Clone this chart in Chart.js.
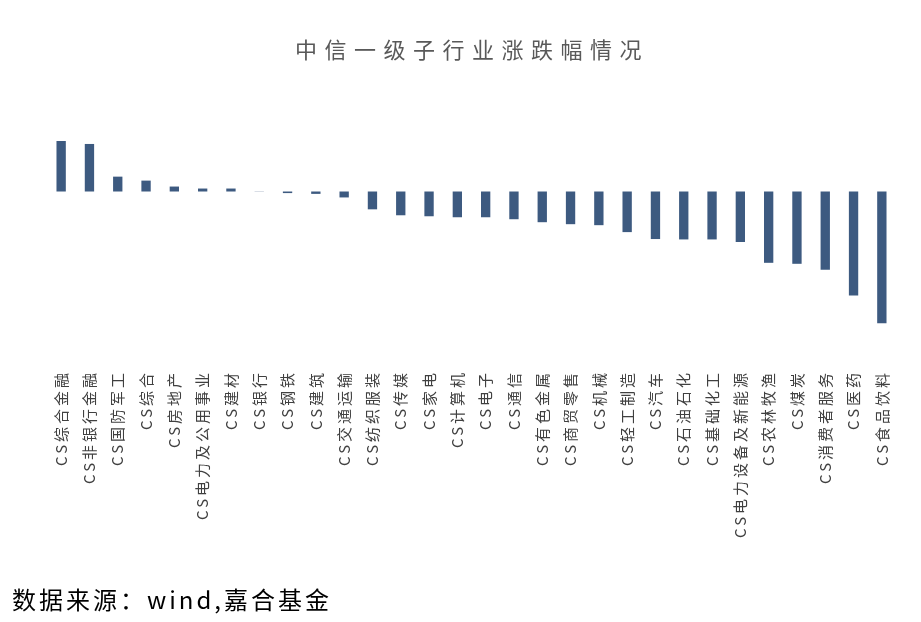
<!DOCTYPE html>
<html lang="zh-CN">
<head>
    <meta charset="UTF-8">
    <title>中信一级子行业涨跌幅情况</title>
    <script src="https://cdn.jsdelivr.net/npm/chart.js"></script>
    <style>
        html, body {
            margin: 0;
            padding: 0;
            background: #ffffff;
        }
        .wrap {
            position: relative;
            width: 921px;
            height: 622px;
            overflow: hidden;
        }
        .title {
            position: absolute;
            top: 33px;
            left: 0;
            width: 944px;
            text-align: center;
            font-family: "Noto Sans CJK SC", sans-serif;
            font-size: 22px;
            line-height: 30px;
            letter-spacing: 7.5px;
            color: #595959;
        }
        .source {
            position: absolute;
            left: 12px;
            top: 583px;
            font-family: "Noto Sans CJK SC", sans-serif;
            font-size: 24px;
            line-height: 32px;
            letter-spacing: 3px;
            color: #000000;
        }
        canvas {
            position: absolute;
            left: 0;
            top: 0;
        }
    </style>
</head>
<body>
<div class="wrap">
    <canvas id="chart" width="921" height="622"></canvas>
    <div class="title">中信一级子行业涨跌幅情况</div>
    <div class="source">数据来源：wind,嘉合基金</div>
</div>
<script>
    // 行业与涨跌幅(%)
    const categories = [
        'CS综合金融', 'CS非银行金融', 'CS国防军工', 'CS综合', 'CS房地产',
        'CS电力及公用事业', 'CS建材', 'CS银行', 'CS钢铁', 'CS建筑',
        'CS交通运输', 'CS纺织服装', 'CS传媒', 'CS家电', 'CS计算机',
        'CS电子', 'CS通信', 'CS有色金属', 'CS商贸零售', 'CS机械',
        'CS轻工制造', 'CS汽车', 'CS石油石化', 'CS基础化工', 'CS电力设备及新能源',
        'CS农林牧渔', 'CS煤炭', 'CS消费者服务', 'CS医药', 'CS食品饮料'
    ];
    const changes = [
        2.55, 2.40, 0.75, 0.55, 0.25,
        0.15, 0.15, 0.01, -0.08, -0.12,
        -0.30, -0.90, -1.20, -1.25, -1.30,
        -1.30, -1.40, -1.55, -1.65, -1.70,
        -2.05, -2.40, -2.42, -2.42, -2.55,
        -3.60, -3.65, -3.95, -5.25, -6.65
    ];
    const yMin = -8.4;
    const yMax = 2.6;

    // 标签字距
    const spacingPlugin = {
        id: 'spacing',
        beforeUpdate(chart) { chart.ctx.letterSpacing = '3px'; },
        beforeLayout(chart) { chart.ctx.letterSpacing = '3px'; },
        beforeDraw(chart) { chart.ctx.letterSpacing = '3px'; }
    };

    new Chart(document.getElementById('chart').getContext('2d'), {
        type: 'bar',
        data: {
            labels: categories,
            datasets: [{
                label: '涨跌幅',
                data: changes,
                backgroundColor: '#3d5a80',
                borderWidth: 0,
                barPercentage: 0.33,
                categoryPercentage: 1
            }]
        },
        options: {
            responsive: false,
            animation: false,
            layout: {
                padding: { top: 140, left: 47, right: 25, bottom: 72 }
            },
            plugins: {
                legend: { display: false },
                title: { display: false },
                tooltip: { enabled: false }
            },
            scales: {
                x: {
                    grid: { display: false, drawTicks: false },
                    border: { display: false },
                    ticks: {
                        autoSkip: false,
                        maxRotation: 90,
                        minRotation: 90,
                        padding: 12,
                        color: '#404040',
                        font: { family: '"Noto Sans CJK SC", sans-serif', size: 15 }
                    }
                },
                y: {
                    min: yMin,
                    max: yMax,
                    border: { display: false },
                    grid: {
                        drawTicks: false,
                        lineWidth: 3,
                        color: (ctx) => (ctx.tick && ctx.tick.value === 0) ? '#d9d9d9' : 'rgba(0,0,0,0)'
                    },
                    ticks: { display: false, stepSize: 1 }
                }
            }
        },
        plugins: [spacingPlugin]
    });
</script>
</body>
</html>
